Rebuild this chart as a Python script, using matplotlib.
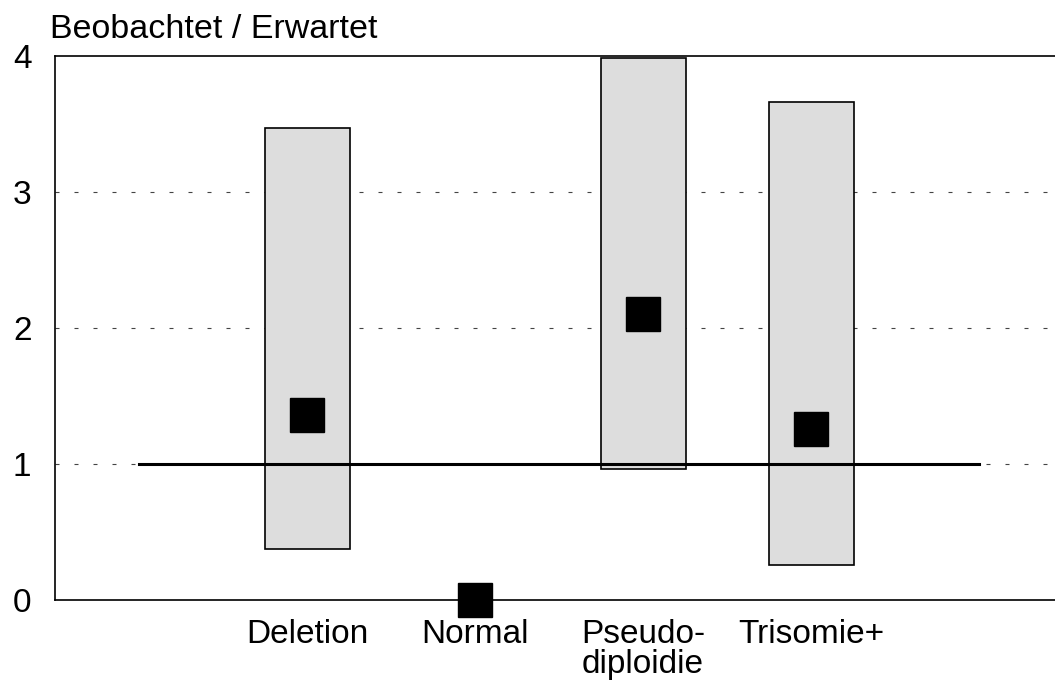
import matplotlib.pyplot as plt
import numpy as np

plt.rcParams['font.family'] = ['Liberation Sans', 'DejaVu Sans']

categories = ["Deletion", "Normal", "Pseudo-\ndiploidie", "Trisomie+"]
observed = [1.36, 0.0, 2.10, 1.26]
ci_low = [0.375, np.nan, 0.96, 0.26]
ci_high = [3.47, np.nan, 3.985, 3.66]
ref_x = [0, 5]
ref_y = [1, 1]
y_ticks = [0, 1, 2, 3, 4]

fig = plt.figure(figsize=(10.55, 6.87), dpi=100)
ax = fig.add_axes([55 / 1055, 87 / 687, 1 - 55 / 1055, 544 / 687])

x = np.arange(1, len(categories) + 1)
low = np.array(ci_low)
high = np.array(ci_high)
ax.bar(x, high - low, bottom=low, width=0.506, color="#dddddd",
       edgecolor="black", linewidth=1.2, zorder=2)

ax.plot(ref_x, ref_y, color="black", linewidth=2.2, zorder=3)
ax.plot(x, observed, "s", color="black", markersize=24, zorder=4, clip_on=False)

ax.set_xlim(-0.5, 5.45)
ax.set_ylim(0, 4)
ax.set_yticks(y_ticks)
ax.set_xticks(x)
ax.set_xticklabels(categories, linespacing=0.95, multialignment="left")
ax.tick_params(axis="both", length=0, labelsize=24)
ax.tick_params(axis="y", pad=17)
ax.tick_params(axis="x", pad=14)

for yv in y_ticks[1:4]:
    ax.axhline(yv, color="#444444", linewidth=0.8, linestyle=(0, (3.6, 13.5)), zorder=1)

ax.spines["right"].set_visible(False)
for s in ["left", "bottom", "top"]:
    ax.spines[s].set_linewidth(1.2)

fig.text(50 / 1055, 1 - 38 / 687, "Beobachtet / Erwartet", fontsize=24.5,
         ha="left", va="baseline")

fig.savefig("out.png", dpi=100)
